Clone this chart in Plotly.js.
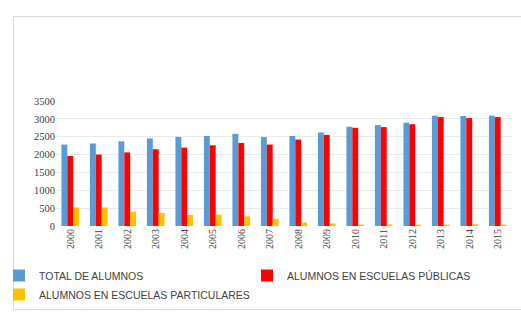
<!DOCTYPE html>
<html><head><meta charset="utf-8">
<script src="https://cdn.plot.ly/plotly-3.0.1.min.js"></script>
<style>
html,body{margin:0;padding:0;background:#fff;}
#frame{position:absolute;left:13px;top:16px;width:520px;height:294px;border:1px solid #d9d9d9;box-sizing:border-box;}
#chart{position:absolute;left:0;top:0;width:521px;height:316px;}
</style></head><body>
<div id="frame"></div>
<div id="chart"></div>
<script>
var years = ['2000','2001','2002','2003','2004','2005','2006','2007','2008','2009','2010','2011','2012','2013','2014','2015'];
var total = [2280,2310,2370,2450,2495,2520,2580,2490,2520,2620,2780,2825,2890,3090,3080,3090];
var publicas = [1960,2000,2060,2150,2195,2260,2325,2280,2420,2550,2750,2770,2850,3050,3020,3050];
var particulares = [520,520,400,360,310,320,270,200,100,70,40,45,40,40,50,40];
var names = ['TOTAL DE ALUMNOS','ALUMNOS EN ESCUELAS PÚBLICAS','ALUMNOS EN ESCUELAS PARTICULARES'];
var colors = ['#5B9BD5','#FF0000','#FFC000'];

var data = [total, publicas, particulares].map(function(v,i){
  return {type:'bar', x:years, y:v, name:names[i], marker:{color:colors[i]}};
});
var layout = {
  width:521, height:316,
  margin:{l:56, r:9, t:101, b:90, autoexpand:false},
  paper_bgcolor:'rgba(0,0,0,0)', plot_bgcolor:'rgba(0,0,0,0)',
  barmode:'group', bargap:0.38, bargroupgap:0,
  xaxis:{type:'category', tickangle:-90, tickfont:{family:'Liberation Serif', size:10, color:'#404040'}, showgrid:false, zeroline:false, ticks:'', showline:false},
  yaxis:{range:[0,3500], dtick:500, tickfont:{family:'Liberation Serif', size:10.5, color:'#404040'}, gridcolor:'#ebebeb', gridwidth:1, zeroline:false, ticks:'', showline:false},
  showlegend:true,
  legend:{orientation:'h', x:-0.125, y:-0.28, xanchor:'left', yanchor:'top',
    font:{family:'Liberation Sans', size:10.5, color:'#404040'},
    entrywidth:203, entrywidthmode:'pixels', itemwidth:30, tracegroupgap:0, traceorder:'normal',
    bgcolor:'rgba(0,0,0,0)'}
};
Plotly.newPlot('chart', data, layout, {displayModeBar:false, staticPlot:true});
</script>
</body></html>
